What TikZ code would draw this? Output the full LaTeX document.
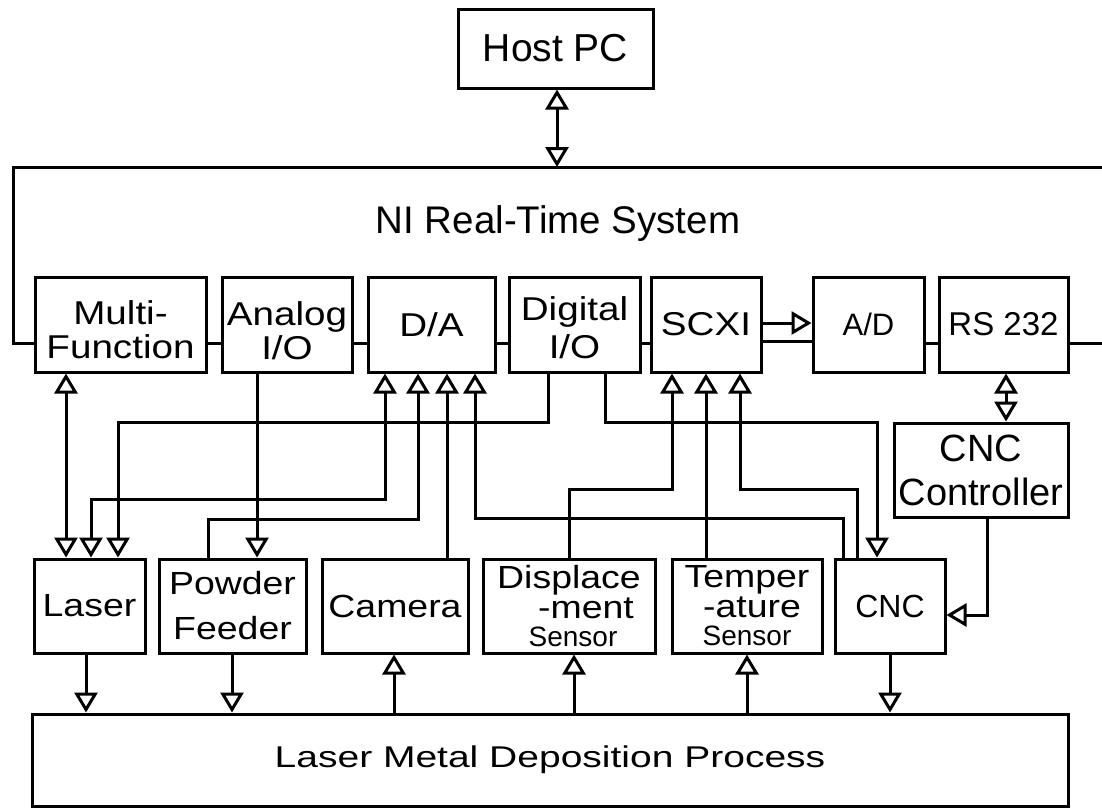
\documentclass[tikz,border=0pt]{standalone}
\usepackage{fontspec}
\setmainfont{Liberation Sans}
\newfontfamily\widefont[FakeStretch=1.17]{Liberation Sans}
\newfontfamily\widerfont[FakeStretch=1.3]{Liberation Sans}
\usetikzlibrary{arrows.meta}
\tikzset{
  otri/.tip={Triangle[open,length=20pt,width=23pt]},
  box/.style={draw, line width=3pt, inner sep=0pt, align=center, minimum height=95pt},
  wire/.style={line width=3pt},
  rowfont/.style={font=\widefont\fontsize{33}{34}\selectfont},
  lowfont/.style={font=\widefont\fontsize{32}{33}\selectfont},
  sensfont/.style={font=\widefont\fontsize{32}{30}\selectfont},
}
\newcommand\snsr{\normalfont\fontsize{28}{28}\selectfont Sensor}
\begin{document}
\begin{tikzpicture}[x=1pt,y=-1pt]
\fill[white] (0,0) rectangle (1102,807);
\useasboundingbox (0,0) rectangle (1102,807);

% Host PC
\node[box, minimum width=195pt, minimum height=79pt, font=\fontsize{39}{39}\selectfont] (host) at (555.5,48.5) {Host PC};
\coordinate (nitop) at (557,167);
\node[anchor=base, font=\fontsize{38.5}{40}\selectfont] (nitext) at (558,233) {NI Real-Time System};

% top row
\node[box, rowfont, minimum width=171pt] (multi) at (120.5,324.5) {\rule{0pt}{34pt}Multi-\\Function};
\node[box, rowfont, minimum width=130pt] (analog) at (287,324.5) {\rule{0pt}{36pt}Analog\\I/O};
\node[box, rowfont, minimum width=127pt] (da) at (431.5,324.5) {D/A};
\node[box, font=\widefont\fontsize{33}{38}\selectfont, minimum width=131pt] (digital) at (574.5,324.5) {\rule{0pt}{30pt}Digital\\I/O};
\node[box, rowfont, minimum width=110pt] (scxi) at (706,324.5) {SCXI};
\node[box, font=\fontsize{31}{31}\selectfont, minimum width=111pt] (ad) at (868.5,324.5) {A/D};
\node[box, font=\fontsize{33}{33}\selectfont, minimum width=129pt] (rs) at (1003.5,324.5) {RS 232};

% CNC controller
\node[box, font=\fontsize{38}{44}\selectfont, minimum width=174pt, minimum height=94pt] (cncc) at (981,470) {CNC\\Controller};

% lower row
\node[box, lowfont, minimum width=111pt, minimum height=94pt] (laser) at (89.5,606) {Laser};
\node[box, font=\widefont\fontsize{32}{45}\selectfont, minimum width=147pt, minimum height=94pt] (powder) at (232.5,606) {Powder\\Feeder};
\node[box, lowfont, minimum width=146pt, minimum height=94pt] (camera) at (395,606) {Camera};
\node[box, sensfont, minimum width=172pt, minimum height=94pt] (disp) at (569,606) {Displace\\\hspace*{34pt}-ment\\[-2pt]\hspace*{8pt}\snsr};
\node[box, sensfont, minimum width=150pt, minimum height=94pt] (temp) at (747,606) {Temper\\\hspace*{10pt}-ature\\[-2pt]\snsr};
\node[box, font=\fontsize{32}{32}\selectfont, minimum width=110pt, minimum height=94pt] (cnc) at (890,606) {CNC};

% process
\node[box, font=\widerfont\fontsize{30}{30}\selectfont, minimum width=1036pt, minimum height=92pt] (lmd) at (550,760) {Laser Metal Deposition Process};

% NI frame and bus
\draw[wire] (1104,167) -- (13,167) -- (13,343) -- (multi.west |- 0,343);
\draw[wire] (rs.east |- 0,343) -- (1104,343);
\foreach \a/\b in {multi/analog, analog/da, da/digital, digital/scxi, ad/rs}
  \draw[wire] (\a.east |- 0,343) -- (\b.west |- 0,343);
\draw[wire] (scxi.east |- 0,341) -- (ad.west |- 0,341);
\draw[wire, -otri] (scxi.east |- 0,323) -- (ad.west |- 0,323);

% host link
\draw[wire, otri-otri] (host.south -| nitop) -- (nitop);

% row to devices
\draw[wire, otri-otri] (multi.south -| 66,0) -- (laser.north -| 66,0);
\draw[wire, -otri] (analog.south -| 257,0) -- (powder.north -| 257,0);
\draw[wire, otri-otri] (da.south -| 385,0) |- (91,499) -- (laser.north -| 91,0);
\draw[wire, -otri] (powder.north -| 208,0) |- (418,519) -- (da.south -| 418,0);
\draw[wire, -otri] (camera.north -| 447,0) -- (da.south -| 447,0);
\draw[wire, -otri] (cnc.north -| 843,0) |- (475,518) -- (da.south -| 475,0);
\draw[wire, -otri] (digital.south -| 548,0) |- (118,422) -- (laser.north -| 118,0);
\draw[wire, -otri] (digital.south -| 605,0) |- (877,422) -- (cnc.north -| 877,0);
\draw[wire, -otri] (disp.north -| 569,0) |- (672,489) -- (scxi.south -| 672,0);
\draw[wire, -otri] (temp.north -| 706,0) -- (scxi.south -| 706,0);
\draw[wire, -otri] (cnc.north -| 857,0) |- (740,489) -- (scxi.south -| 740,0);
\draw[wire, otri-otri] (rs.south -| 1006,0) -- (cncc.north -| 1006,0);
\draw[wire, -otri] (cncc.south -| 987,0) |- (cnc.east |- 0,615);

% devices to process
\draw[wire, -otri] (laser.south -| 86,0) -- (lmd.north -| 86,0);
\draw[wire, -otri] (powder.south -| 232,0) -- (lmd.north -| 232,0);
\draw[wire, -otri] (lmd.north -| 394,0) -- (camera.south -| 394,0);
\draw[wire, -otri] (lmd.north -| 574,0) -- (disp.south -| 574,0);
\draw[wire, -otri] (lmd.north -| 747,0) -- (temp.south -| 747,0);
\draw[wire, -otri] (cnc.south -| 890,0) -- (lmd.north -| 890,0);
\end{tikzpicture}
\end{document}
